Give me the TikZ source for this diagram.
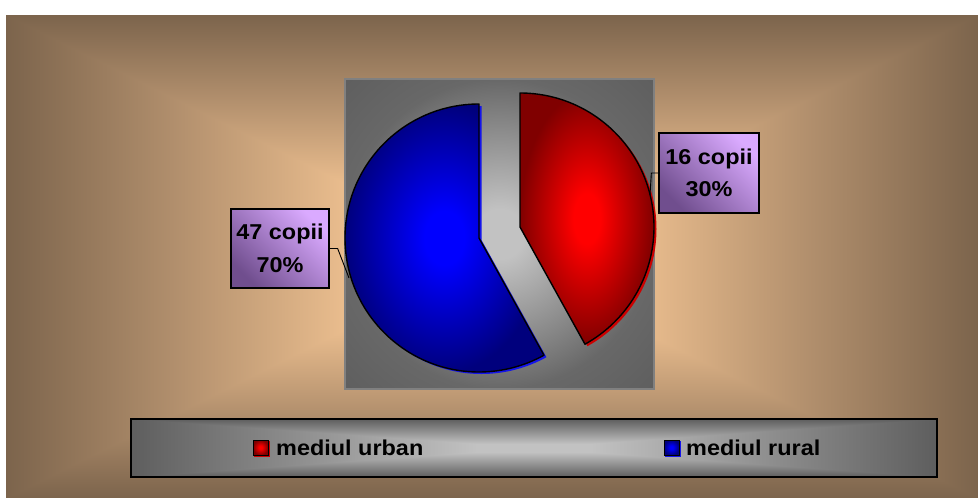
\documentclass[tikz,border=0pt]{standalone}
\usepackage{fontspec}
\setmainfont{Liberation Sans}
\usepackage{graphicx}
\definecolor{bgdark}{RGB}{124,100,76}
\definecolor{bglight}{RGB}{234,189,142}
\definecolor{bgmid}{RGB}{176,142,108}
\definecolor{grlight}{RGB}{194,194,194}
\definecolor{grmid}{RGB}{104,104,104}
\definecolor{grdark}{RGB}{94,94,94}
\definecolor{plotedge}{RGB}{128,128,128}
\definecolor{pieblue}{RGB}{0,0,255}
\definecolor{pienavy}{RGB}{0,0,125}
\definecolor{piered}{RGB}{255,0,0}
\definecolor{piemaroon}{RGB}{128,0,0}
\definecolor{blueshadow}{RGB}{20,20,235}
\definecolor{redshadow}{RGB}{205,0,0}
\definecolor{lblight}{RGB}{218,170,255}
\definecolor{lbdark}{RGB}{112,78,142}
\pgfdeclareverticalshading{bgsym}{100bp}{color(0bp)=(bgdark); color(25bp)=(bgdark); color(33.5bp)=(bgmid); color(42.5bp)=(bglight); color(57.5bp)=(bglight); color(66.5bp)=(bgmid); color(75bp)=(bgdark); color(100bp)=(bgdark)}
\pgfdeclareverticalshading{legsym}{100bp}{color(0bp)=(grdark); color(25bp)=(grdark); color(46.5bp)=(grlight); color(53.5bp)=(grlight); color(75bp)=(grdark); color(100bp)=(grdark)}
\pgfdeclareradialshading{plotrad}{\pgfpoint{0bp}{0bp}}{color(0bp)=(grlight); color(4bp)=(grlight); color(25bp)=(grmid); color(36bp)=(grdark); color(50bp)=(grdark)}
\pgfdeclareradialshading{bluerad}{\pgfpoint{0bp}{0bp}}{color(0bp)=(pieblue); color(5bp)=(pieblue); color(25bp)=(pienavy); color(50bp)=(pienavy)}
\pgfdeclareradialshading{redrad}{\pgfpoint{0bp}{0bp}}{color(0bp)=(piered); color(5bp)=(piered); color(25bp)=(piemaroon); color(50bp)=(piemaroon)}
\newcommand\sx[1]{\scalebox{1.09}[1]{#1}}
% rectangular "from centre" gradient: horizontal ramp everywhere, vertical ramp in the top/bottom wedges
\newcommand\rectshade[5]{%
  \shade[shading=#5,shading angle=90] (#1,#2) rectangle (#3,#4);
  \begin{scope}
    \clip (#1,#2) -- (#3,#2) -- ({(#1+#3)/2},{(#2+#4)/2}) -- (#3,#4) -- (#1,#4) -- ({(#1+#3)/2},{(#2+#4)/2}) -- cycle;
    \shade[shading=#5,shading angle=0] (#1,#2) rectangle (#3,#4);
  \end{scope}
}
\begin{document}
\begin{tikzpicture}[x=1pt,y=-1pt,
  lbl/.style={draw=black, line width=1.3pt, inner sep=0pt, align=center,
    font=\fontsize{21.5}{32.5}\selectfont\bfseries,
    top color=lblight, bottom color=lbdark, shading angle=-45},
  legtxt/.style={inner sep=0pt, anchor=base west, font=\fontsize{21.5}{24}\selectfont\bfseries},
  keybox/.style={draw=black, line width=1pt, minimum width=15pt, minimum height=15pt, inner sep=0pt},
  slice/.style={draw=black, line width=1.4pt, line join=round},
  leader/.style={draw=black, line width=0.9pt}
]
\useasboundingbox (0,0) rectangle (978,498);
\fill[white] (0,0) rectangle (978,498);
% background
\rectshade{6}{15}{978}{498}{bgsym}
% plot area
\node[shading=plotrad, draw=plotedge, line width=2pt, minimum width=309pt, minimum height=310pt, inner sep=0pt] (plot) at (499.5,234) {};
% pie slices: shadows
\coordinate (cb) at (479,238);
\coordinate (cr) at (520,227);
\fill[blueshadow] ([shift={(2.5,2)}]cb) -- ++(0,-134) arc[start angle=-90, end angle=-299, radius=134] -- cycle;
\fill[redshadow] ([shift={(2.5,2)}]cr) -- ++(0,-134) arc[start angle=-90, end angle=61, radius=134] -- cycle;
% pie slices
\shade[slice, shading=bluerad] (cb) -- ++(0,-134) arc[start angle=-90, end angle=-299, radius=134] -- cycle;
\shade[slice, shading=redrad] (cr) -- ++(0,-134) arc[start angle=-90, end angle=61, radius=134] -- cycle;
% data labels
\node[lbl, minimum width=98pt, minimum height=79pt] (l47) at (280,248.5) {\sx{47 copii}\\\sx{70\%}};
\node[lbl, minimum width=100pt, minimum height=80pt] (l16) at (709,173) {\sx{16 copii}\\\sx{30\%}};
\coordinate (p47) at (349,278);
\coordinate (p16) at (650,195);
\draw[leader] (l47.east) -- ++(8,0) -- (p47);
\draw[leader] (l16.west) -- ++(-7,0) -- (p16);
% legend
\rectshade{131}{419}{937}{477}{legsym}
\node[draw=black, line width=2pt, minimum width=806pt, minimum height=58pt, inner sep=0pt] (legend) at (534,448) {};
\fill[redshadow] (254,441) rectangle (270,457);
\node[keybox, shading=redrad] (kurban) at (260.5,447.5) {};
\node[legtxt] (turban) at (276,455.5) {\sx{mediul urban}};
\fill[blueshadow] (665,441) rectangle (681,457);
\node[keybox, shading=bluerad] (krural) at (671.5,447.5) {};
\node[legtxt] (trural) at (686,455.5) {\sx{mediul rural}};
\end{tikzpicture}
\end{document}
